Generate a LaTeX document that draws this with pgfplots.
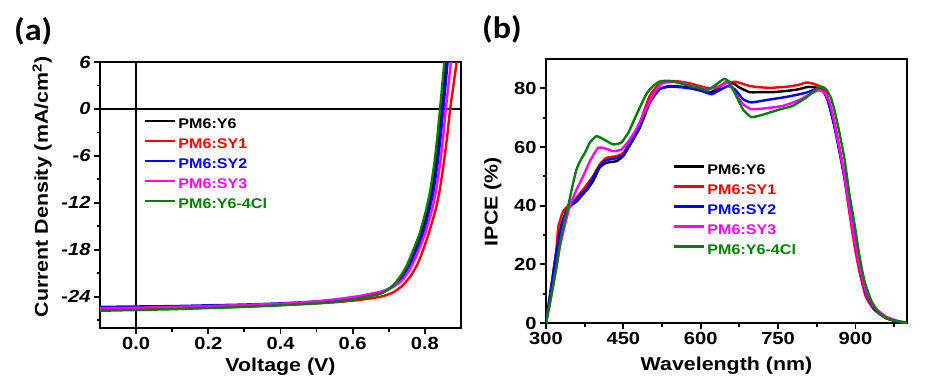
\documentclass[border=0pt]{standalone}
\usepackage{pgfplots}
\pgfplotsset{compat=1.18}
\usepackage{fontspec}
\setmainfont[FakeStretch=1.15]{Liberation Sans}
\newfontfamily\carlito[FakeStretch=1.1]{Carlito}
\definecolor{cK}{RGB}{0,0,0}
\definecolor{cR}{RGB}{255,0,0}
\definecolor{cB}{RGB}{0,0,255}
\definecolor{cM}{RGB}{255,0,255}
\definecolor{cG}{RGB}{0,128,0}
\pgfplotsset{
  myaxis/.style={
    scale only axis, width=361pt, anchor=south west,
    axis line style={line width=2.4pt},
    tick align=outside, xtick pos=left, ytick pos=left,
    major tick length=6pt, minor tick length=3.5pt,
    every tick/.style={black, line width=1.8pt},
    tick label style={font=\fontsize{17.5}{19}\selectfont\bfseries},
    /pgf/number format/assume math mode=true,
    legend cell align=left,
    legend style={draw=none, fill=none, inner sep=0pt, outer sep=0pt,
      row sep=9pt, font=\fontsize{14}{16}\selectfont\bfseries,
      nodes={inner xsep=2pt, inner ysep=0pt, text height=10pt, text depth=1pt}},
    legend image code/.code={\draw[#1] (0pt,3.5pt) -- (30pt,3.5pt);},
    every axis plot/.append style={line width=2.4pt, smooth, tension=0.3},
  }
}
\begin{document}
\begin{tikzpicture}
\path[use as bounding box] (0pt,0pt) rectangle (934pt,381pt);
\node[anchor=base west, inner sep=0pt, font=\fontsize{31}{34}\selectfont\carlito\bfseries] at (14pt,340pt) {(a)};
\node[anchor=base west, inner sep=0pt, font=\fontsize{31}{34}\selectfont\carlito\bfseries] at (482pt,342pt) {(b)};
% ---------------- panel (a)
\begin{axis}[myaxis, at={(100pt,53pt)}, height=266pt,
  xmin=-0.1, xmax=0.9, ymin=-28, ymax=6,
  xtick={0,0.2,0.4,0.6,0.8}, minor xtick={0.1,0.3,0.5,0.7},
  ytick={-24,-18,-12,-6,0,6}, minor ytick={-27,-21,-15,-9,-3,3},
  xticklabel style={/pgf/number format/.cd, fixed, fixed zerofill, precision=1},
  yticklabel style={font=\fontsize{17.5}{19}\selectfont\bfseries\itshape},
  xlabel={Voltage (V)}, ylabel={Current Density (mA/cm\textsuperscript{2})},
  every axis x label/.style={at={(axis description cs:0.5,-0.147)}, anchor=center, font=\fontsize{18.6}{20}\selectfont\bfseries},
  every axis y label/.style={at={(axis description cs:-0.16,0.53)}, rotate=90, anchor=center, font=\fontsize{18.6}{20}\selectfont\bfseries},
  legend style={at={(axis description cs:0.122,0.786)}, anchor=north west},
]
\addplot[black, line width=2pt, sharp plot, forget plot] coordinates {(-0.1,0) (0.9,0)};
\addplot[black, line width=2pt, sharp plot, forget plot] coordinates {(0,-28) (0,6)};
\addplot[cK] coordinates {(-0.1,-25.7)(0,-25.6)(0.1,-25.5)(0.2,-25.4)(0.3,-25.25)(0.4,-25.05)(0.5,-24.8)(0.567,-24.55)(0.62,-24.15)(0.678,-23.55)(0.71,-22.7)(0.738,-21.2)(0.753,-20.0)(0.767,-18.6)(0.789,-16.0)(0.807,-13.0)(0.819,-10.4)(0.830,-7.0)(0.838,-3.8)(0.846,0)(0.852,3)(0.858,6)};
\addplot[cR] coordinates {(-0.1,-25.65)(0,-25.6)(0.1,-25.5)(0.2,-25.4)(0.3,-25.25)(0.4,-25.05)(0.5,-24.85)(0.567,-24.65)(0.62,-24.4)(0.678,-24.0)(0.71,-23.5)(0.735,-22.7)(0.76,-21.4)(0.78,-19.8)(0.792,-18.4)(0.81,-16.0)(0.829,-13.0)(0.841,-10.4)(0.852,-7.0)(0.861,-3.8)(0.870,0)(0.879,3)(0.888,6)};
\addplot[cB] coordinates {(-0.1,-25.3)(0,-25.25)(0.1,-25.2)(0.2,-25.1)(0.3,-25.0)(0.4,-24.85)(0.5,-24.6)(0.567,-24.35)(0.62,-24.0)(0.678,-23.45)(0.71,-22.7)(0.74,-21.3)(0.757,-20.0)(0.772,-18.5)(0.794,-16.0)(0.812,-13.0)(0.824,-10.4)(0.835,-7.0)(0.843,-3.8)(0.851,0)(0.857,3)(0.863,6)};
\addplot[cM] coordinates {(-0.1,-25.45)(0,-25.4)(0.1,-25.3)(0.2,-25.2)(0.3,-25.05)(0.4,-24.9)(0.5,-24.6)(0.567,-24.25)(0.62,-23.9)(0.678,-23.35)(0.71,-22.8)(0.735,-22.0)(0.757,-20.6)(0.777,-18.7)(0.80,-16.0)(0.819,-13.0)(0.831,-10.4)(0.842,-7.0)(0.850,-3.8)(0.858,0)(0.865,3)(0.872,6)};
\addplot[cG] coordinates {(-0.1,-25.8)(0,-25.7)(0.1,-25.6)(0.2,-25.45)(0.3,-25.3)(0.4,-25.1)(0.5,-24.85)(0.567,-24.6)(0.62,-24.2)(0.678,-23.6)(0.71,-22.7)(0.735,-21.2)(0.75,-20.0)(0.763,-18.6)(0.785,-16.0)(0.803,-13.0)(0.815,-10.4)(0.826,-7.0)(0.834,-3.8)(0.842,0)(0.848,3)(0.854,6)};
\legend{\textcolor{cK}{PM6:Y6},\textcolor{cR}{PM6:SY1},\textcolor{cB}{PM6:SY2},\textcolor{cM}{PM6:SY3},\textcolor{cG}{PM6:Y6-4Cl}}
\end{axis}
% ---------------- panel (b)
\begin{axis}[myaxis, at={(546pt,58pt)}, height=264pt,
  xmin=300, xmax=1000, ymin=0, ymax=90,
  xtick={300,450,600,750,900}, minor xtick={375,525,675,825,975},
  ytick={0,20,40,60,80}, minor ytick={10,30,50,70},
  xlabel={Wavelength (nm)}, ylabel={IPCE (\%)},
  every axis x label/.style={at={(axis description cs:0.5,-0.163)}, anchor=center, font=\fontsize{18.6}{20}\selectfont\bfseries},
  every axis y label/.style={at={(axis description cs:-0.147,0.46)}, rotate=90, anchor=center, font=\fontsize{18.6}{20}\selectfont\bfseries},
  legend style={at={(axis description cs:0.352,0.601)}, anchor=north west},
]
\addplot[cK] coordinates {(300,0)(310,12)(320,24)(330,33.5)(340,38)(350,40.3)(360,41.5)(372,44)(380,45.5)(392,48.6)(404,53)(417,54.6)(437,55.2)(450,57)(462,60.4)(482,66.6)(501,75)(520,79.7)(540,80.8)(560,80.6)(580,80.3)(600,79.5)(615,78.5)(630,79.5)(650,82.2)(665,81.5)(676,80.2)(695,78.7)(720,78.7)(740,78.7)(770,79.2)(790,79.7)(808,80.5)(825,80.2)(838,79)(846,76)(853,71.5)(861,65.5)(870,57.5)(879,49)(888,39)(898,28)(908,18.5)(920,10)(936,4.8)(959,1.7)(985,0.3)(1000,0)};
\addplot[cR] coordinates {(300,0)(310,12)(320,25)(324,32.9)(333,38)(343,40)(353,41.5)(372,45.5)(391,50)(404,54)(417,56.3)(437,56.9)(450,58)(462,61.5)(482,68.3)(501,77.4)(520,81.5)(540,82.5)(560,82.3)(579,81.7)(611,80.2)(630,80.2)(650,81.9)(669,82.2)(695,80.8)(720,80.3)(738,80.2)(770,80.6)(790,81.2)(805,82)(820,81.5)(833,80.5)(843,78.5)(851,74)(859,68.5)(869,60)(879,49.5)(888,38)(898,26.5)(908,17.4)(920,9.1)(936,4.6)(959,1.7)(985,0.3)(1000,0)};
\addplot[cB] coordinates {(300,0)(310,12)(320,24)(330,33.5)(340,38.5)(350,40.5)(362,42.5)(372,44.7)(380,46)(391,49.5)(404,53.5)(417,55.5)(437,56.2)(450,57.3)(462,60.9)(482,67.5)(501,75.5)(520,79.7)(540,80.6)(560,80.4)(579,80)(600,79.2)(621,78)(637,79.4)(653,80.8)(666,79.7)(682,76.3)(698,75.2)(727,76)(770,77.2)(804,78.5)(824,79.7)(837,79.1)(846,76.5)(853,72)(861,66)(870,58)(879,50)(888,40)(898,29)(908,19.5)(920,10.5)(936,5)(959,1.8)(985,0.3)(1000,0)};
\addplot[cM] coordinates {(300,0)(310,9)(320,18.5)(327,26)(336,33)(346,39.8)(358,45)(372,50)(386,55.5)(401,59.7)(415,59.5)(430,58.6)(446,59.1)(460,62)(475,66)(490,71.5)(501,75.5)(512,79)(523,81.5)(540,82.2)(560,82)(579,81.1)(611,79.7)(637,80.8)(651,82.2)(666,78.6)(682,74.6)(698,72.9)(720,73.1)(759,74)(791,76)(817,78.5)(830,79.4)(840,78.5)(850,75.2)(857,70)(865,63)(872,56.5)(879,50)(888,39.5)(898,28.5)(908,19.5)(920,11)(936,5.5)(959,2.2)(980,0.8)(1000,0.1)};
\addplot[cG] coordinates {(300,0)(310,9)(320,19)(327,27.2)(335,34)(343,39.8)(351,46.5)(359,52.3)(367,55.5)(375.5,58)(385,61.5)(398,63.7)(415,62.3)(430,60.9)(446,61.5)(460,65)(469,68.5)(482,73.5)(495,78.2)(508,80.8)(520,82.3)(535,82.6)(550,82.2)(580,80.8)(600,80)(612,79.3)(630,81.3)(645,83.2)(655,82.3)(669,77.4)(682,72.8)(698,70.2)(720,71)(753,72.8)(778,74)(804,76.8)(830,80.5)(840,80.2)(846,79)(853,76.5)(859,72.8)(869,64.9)(879,55.7)(888,44.3)(898,34)(908,22.7)(917,14.7)(930,7.9)(946,3.3)(966,1.3)(992,0.3)(1000,0)};
\legend{\textcolor{cK}{PM6:Y6},\textcolor{cR}{PM6:SY1},\textcolor{cB}{PM6:SY2},\textcolor{cM}{PM6:SY3},\textcolor{cG}{PM6:Y6-4Cl}}
\end{axis}
\end{tikzpicture}
\end{document}
